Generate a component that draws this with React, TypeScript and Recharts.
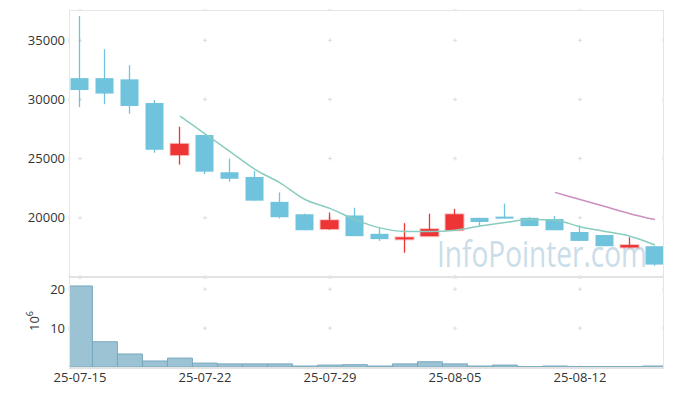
import React from "react";
import { ComposedChart, Bar, Line, XAxis, YAxis, CartesianGrid } from "recharts";

const dates = [
  "25-07-15", "25-07-16", "25-07-17", "25-07-18", "25-07-21", "25-07-22",
  "25-07-23", "25-07-24", "25-07-25", "25-07-28", "25-07-29", "25-07-30",
  "25-07-31", "25-08-01", "25-08-04", "25-08-05", "25-08-06", "25-08-07",
  "25-08-08", "25-08-11", "25-08-12", "25-08-13", "25-08-14", "25-08-15",
];
const opens = [31800, 31800, 31700, 29700, 25300, 27000, 23850, 23450, 21350, 20300, 19050, 20200, 18650, 18200, 18450, 18950, 20000, 20100, 20000, 19900, 18800, 18550, 17500, 17600];
const highs = [37050, 34250, 32900, 29950, 27700, 27000, 25000, 23950, 22150, 20350, 20450, 20850, 19150, 19550, 20350, 20750, 20000, 21200, 20050, 20150, 19350, 18550, 18350, 17600];
const lows = [29350, 29600, 28800, 25500, 24500, 23700, 23050, 21450, 19950, 18950, 19000, 18450, 18050, 17050, 18450, 18950, 19250, 19950, 19300, 18950, 18050, 17600, 17500, 15950];
const closes = [30800, 30500, 29450, 25750, 26250, 23900, 23300, 21450, 20050, 18950, 19800, 18450, 18200, 18350, 19050, 20300, 19650, 19950, 19300, 18950, 18050, 17600, 17700, 16050];
const ma5 = [null, null, null, null, 28600, 27100, 25600, 24100, 22950, 21550, 20800, 19850, 19150, 18850, 18850, 18950, 19300, 19600, 19850, 19800, 19250, 18850, 18450, 17700];
const ma20 = [null, null, null, null, null, null, null, null, null, null, null, null, null, null, null, null, null, null, null, 22150, 21550, 20950, 20350, 19850];
// volume in millions of shares
const volumes = [20.85, 6.5, 3.35, 1.55, 2.3, 1.0, 0.8, 0.8, 0.8, 0.25, 0.5, 0.6, 0.25, 0.8, 1.35, 0.8, 0.25, 0.5, 0.1, 0.25, 0.1, 0.1, 0.1, 0.25];

const priceTicks = [15000, 20000, 25000, 30000, 35000];
const volumeTicks = [10, 20];
const dateTicks = [0, 5, 10, 15, 20];

const UP = "#ee3535";
const DOWN = "#6fc3dc";
const xDomain = [-0.44, 23.32];

const data = dates.map((d, i) => ({
  i,
  date: d,
  open: opens[i],
  high: highs[i],
  low: lows[i],
  close: closes[i],
  range: [lows[i], highs[i]],
  ma5: ma5[i],
  ma20: ma20[i],
  volume: volumes[i],
}));

const Candle = (props: any) => {
  const { x, y, width, height, payload } = props;
  const { open, close, high, low } = payload;
  const k = height / (high - low);
  const cx = x + width / 2;
  const top = y + (high - Math.max(open, close)) * k;
  const bh = Math.max(2, Math.abs(close - open) * k);
  const up = close > open;
  const color = up ? UP : DOWN;
  return (
    <g>
      <line x1={cx} x2={cx} y1={y} y2={y + height} stroke={color} strokeWidth={1.3} />
      <rect
        x={x}
        y={top}
        width={width}
        height={bh}
        fill={color}
        stroke={up ? "rgba(238,53,53,0.3)" : "none"}
        strokeWidth={up ? 2 : 0}
      />
    </g>
  );
};

const tickStyle = { fill: "#333", fontSize: 13 };

const App = () => {
  return (
    <div
      style={{
        position: "absolute",
        left: 0,
        top: 0,
        width: 673,
        height: 396,
        background: "#fff",
        fontFamily: "'Open Sans', sans-serif",
      }}
    >
      <svg style={{ position: "absolute", left: 0, top: 0 }} width={673} height={396}>
        <text x={437} y={267} fontSize={36} fill="#cadde8" textLength={210} lengthAdjust="spacingAndGlyphs">
          InfoPointer.com
        </text>
      </svg>
      <div style={{ position: "absolute", left: 0, top: 0 }}>
        <ComposedChart width={673} height={278} data={data} margin={{ top: 10, right: 10, bottom: 1, left: 9 }}>
          <CartesianGrid
            horizontal={(p: any) => (
              <line key={p.key} x1={p.x1} y1={p.y1} x2={p.x2} y2={p.y2} stroke="#dcdcdc" strokeDasharray="4 121" strokeDashoffset={116} />
            )}
            vertical={(p: any) => (
              <line key={p.key} x1={p.x1} y1={p.y1} x2={p.x2} y2={p.y2} stroke="#dcdcdc" strokeDasharray="4 55.1" strokeDashoffset={30.8} />
            )}
          />
          <XAxis dataKey="i" type="number" domain={xDomain} ticks={dateTicks} allowDataOverflow hide />
          <YAxis
            domain={[15000, 37560]}
            ticks={priceTicks}
            allowDataOverflow
            width={60}
            tickLine={false}
            axisLine={false}
            tickSize={2}
            tickMargin={2}
            tick={tickStyle}
          />
          <Bar dataKey="range" barSize={18} shape={<Candle />} isAnimationActive={false} />
          <Line dataKey="ma5" type="monotone" stroke="#88cdbf" strokeWidth={1.5} dot={false} isAnimationActive={false} />
          <Line dataKey="ma20" type="monotone" stroke="#cc8fc0" strokeWidth={1.5} dot={false} isAnimationActive={false} />
        </ComposedChart>
      </div>
      <div style={{ position: "absolute", left: 0, top: 277 }}>
        <ComposedChart width={673} height={119} data={data} margin={{ top: 1, right: 10, bottom: 0, left: 9 }}>
          <CartesianGrid
            horizontal={(p: any) => (
              <line key={p.key} x1={p.x1} y1={p.y1} x2={p.x2} y2={p.y2} stroke="#dcdcdc" strokeDasharray="4 121" strokeDashoffset={116} />
            )}
            vertical={(p: any) => (
              <line key={p.key} x1={p.x1} y1={p.y1} x2={p.x2} y2={p.y2} stroke="#dcdcdc" strokeDasharray="4 35" strokeDashoffset={29.7} />
            )}
          />
          <XAxis
            dataKey="i"
            type="number"
            domain={xDomain}
            ticks={dateTicks}
            allowDataOverflow
            height={29}
            tickFormatter={(v: number) => dates[v]}
            tickLine={false}
            axisLine={false}
            tickSize={4}
            tickMargin={2}
            tick={tickStyle}
          />
          <YAxis
            domain={[0, 22.9]}
            ticks={volumeTicks}
            allowDataOverflow
            width={60}
            tickLine={false}
            axisLine={false}
            tickSize={2}
            tickMargin={2}
            tick={tickStyle}
          />
          <Bar dataKey="volume" barSize={24.9} fill="#9cc3d3" stroke="#78a8be" strokeWidth={1} isAnimationActive={false} />
        </ComposedChart>
      </div>
      <div
        style={{
          position: "absolute",
          left: 33,
          top: 321,
          transform: "translate(-50%, -50%) rotate(-90deg)",
          fontSize: 13,
          color: "#333",
          whiteSpace: "nowrap",
        }}
      >
        10<sup style={{ fontSize: 9 }}>6</sup>
      </div>
      <div
        style={{
          position: "absolute",
          left: 69,
          top: 10,
          width: 595,
          height: 268,
          boxSizing: "border-box",
          border: "1px solid #e6e6e6",
          borderBottom: "2px solid #e3e3e3",
          pointerEvents: "none",
        }}
      />
      <div
        style={{
          position: "absolute",
          left: 69,
          top: 278,
          width: 595,
          height: 91,
          boxSizing: "border-box",
          borderLeft: "1px solid #e6e6e6",
          borderRight: "1px solid #e6e6e6",
          borderBottom: "2px solid #e3e3e3",
          pointerEvents: "none",
        }}
      />
    </div>
  );
};

export default App;
